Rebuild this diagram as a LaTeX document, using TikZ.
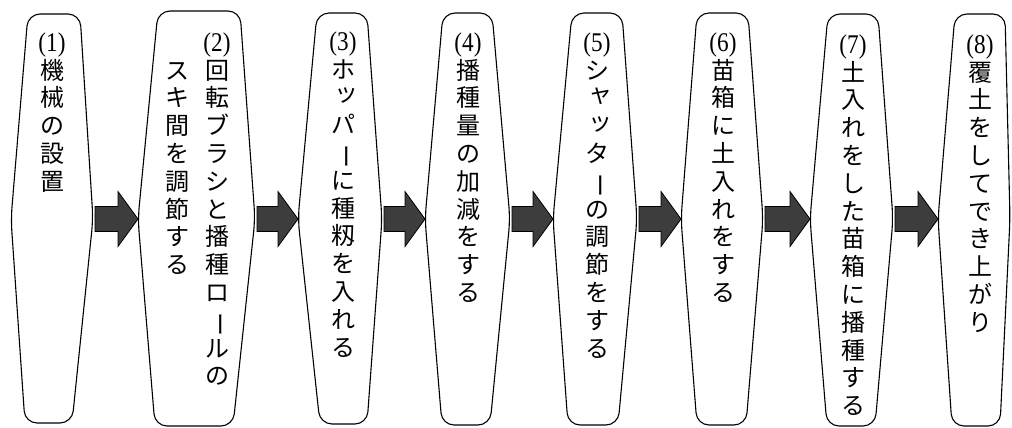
\documentclass[tikz,border=0pt]{standalone}
\usepackage{fontspec}
\newfontfamily\jpv{Noto Sans CJK JP}
\newfontfamily\labfont{Liberation Serif}
\usetikzlibrary{calc}
\newcommand\lab[1]{{\labfont\fontsize{27}{27.8}\selectfont\scalebox{0.86}[1]{(#1)}}}
\newcommand\fst{\rule{0pt}{22pt}}
\newcommand\vbar{\rotatebox[origin=c]{-90}{ー}}
\newcommand\sk[1]{\makebox[1em][l]{\hspace*{0.16em}\raisebox{0.16em}{#1}}}
\newcommand\flowarrow[2]{%
  \draw[flowarr] let \p1=(#1), \p2=(#2) in
    (\x1+2pt,\y1+12.5pt) -- (\x2-20pt,\y1+12.5pt) -- (\x2-20pt,\y1+27.5pt) --
    (\x2,\y1) -- (\x2-20pt,\y1-27.5pt) -- (\x2-20pt,\y1-12.5pt) --
    (\x1+2pt,\y1-12.5pt) -- cycle;}
\begin{document}
\begin{tikzpicture}[x=1pt,y=-1pt,
  hexbox/.style={draw=black, line width=1.1pt, rounded corners=12pt, fill=white},
  flowarr/.style={draw=black, line width=0.8pt, fill=black!76, line join=miter},
  coltext/.style={anchor=north, inner sep=0pt, align=center,
    font={\jpv\fontsize{24}{27.8}\selectfont}}]
\useasboundingbox (0,0) rectangle (1012,428);
\fill[white] (0,0) rectangle (1012,428);
% box 1
\coordinate (b1l) at (11,219); \coordinate (b1r) at (93,219);
\draw[hexbox] (28,14) -- (80,14) -- (b1r) -- (72,423) -- (25,423) -- (b1l) -- cycle;
% box 2
\coordinate (b2l) at (138,219); \coordinate (b2r) at (255,219);
\draw[hexbox] (158,11) -- (240,11) -- (b2r) -- (233,426) -- (155,426) -- (b2l) -- cycle;
% box 3
\coordinate (b3l) at (298,219); \coordinate (b3r) at (382,219);
\draw[hexbox] (317,13) -- (367,13) -- (b3r) -- (367,424) -- (320,424) -- (b3l) -- cycle;
% box 4
\coordinate (b4l) at (425,219); \coordinate (b4r) at (510,219);
\draw[hexbox] (443,13) -- (492,13) -- (b4r) -- (490,425) -- (442,425) -- (b4l) -- cycle;
% box 5
\coordinate (b5l) at (553,219); \coordinate (b5r) at (637,219);
\draw[hexbox] (572,13) -- (622,13) -- (b5r) -- (618,425) -- (568,425) -- (b5l) -- cycle;
% box 6
\coordinate (b6l) at (681,219); \coordinate (b6r) at (763,219);
\draw[hexbox] (697,13) -- (748,13) -- (b6r) -- (746,425) -- (697,425) -- (b6l) -- cycle;
% box 7
\coordinate (b7l) at (810,219); \coordinate (b7r) at (893,219);
\draw[hexbox] (828,14) -- (878,14) -- (b7r) -- (875,426) -- (827,426) -- (b7l) -- cycle;
% box 8
\coordinate (b8l) at (938,219); \coordinate (b8r) at (1010,219);
\draw[hexbox] (955,14) -- (1005,14) -- (b8r) -- (1000,426) -- (952,426) -- (b8l) -- cycle;
% texts
\node[coltext] (t1) at (52,29) {\fst\lab{1}\\機\\械\\の\\設\\置};
\node[coltext] (t2) at (217,29) {\fst\lab{2}\\回\\転\\ブ\\ラ\\シ\\と\\播\\種\\ロ\\\vbar\\ル\\の};
\node[coltext] (t2b) at (177,56.8) {\fst ス\\キ\\間\\を\\調\\節\\す\\る};
\node[coltext] (t3) at (343,28) {\fst\lab{3}\\ホ\\\sk{ッ}\\パ\\\vbar\\に\\種\\籾\\を\\入\\れ\\る};
\node[coltext] (t4) at (468,29) {\fst\lab{4}\\播\\種\\量\\の\\加\\減\\を\\す\\る};
\node[coltext] (t5) at (597,29) {\fst\lab{5}\\シ\\\sk{ャ}\\\sk{ッ}\\タ\\\vbar\\の\\調\\節\\を\\す\\る};
\node[coltext] (t6) at (723,29) {\fst\lab{6}\\苗\\箱\\に\\土\\入\\れ\\を\\す\\る};
\node[coltext] (t7) at (853,31) {\fst\lab{7}\\土\\入\\れ\\を\\し\\た\\苗\\箱\\に\\播\\種\\す\\る};
\node[coltext] (t8) at (980,31) {\fst\lab{8}\\覆\\土\\を\\し\\て\\で\\き\\上\\が\\り};
% arrows
\flowarrow{b1r}{b2l}
\flowarrow{b2r}{b3l}
\flowarrow{b3r}{b4l}
\flowarrow{b4r}{b5l}
\flowarrow{b5r}{b6l}
\flowarrow{b6r}{b7l}
\flowarrow{b7r}{b8l}
\end{tikzpicture}
\end{document}
